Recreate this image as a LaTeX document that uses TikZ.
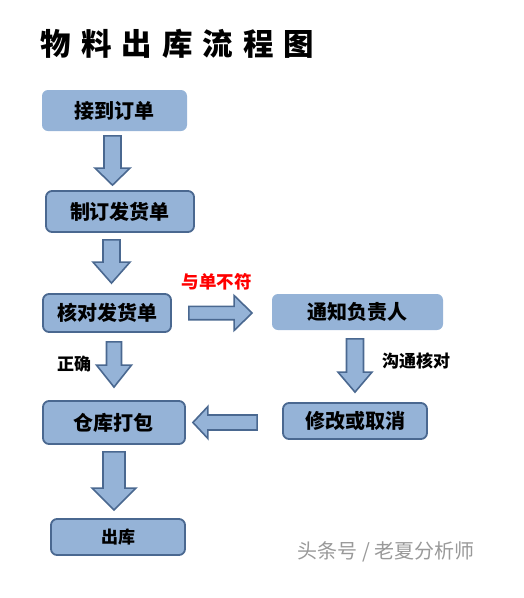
\documentclass[tikz,border=0pt]{standalone}
\usepackage{fontspec}
\newfontfamily\cjk{Noto Sans CJK SC}
\usetikzlibrary{calc, positioning}
\definecolor{boxfill}{HTML}{95B3D7}
\definecolor{boxline}{HTML}{4A6890}
\definecolor{warnred}{HTML}{FF0000}
% block arrow: start, tip, shaft half width, head half width, head length
\newcommand{\blockarr}[5]{%
  \coordinate (bah) at ($(#2)!#5pt!(#1)$);
  \draw[arrowbody] ($(#1)!#3pt!90:(#2)$) -- ($(bah)!#3pt!90:(#2)$) -- ($(bah)!#4pt!90:(#2)$) -- (#2)
    -- ($(bah)!#4pt!-90:(#2)$) -- ($(bah)!#3pt!-90:(#2)$) -- ($(#1)!#3pt!-90:(#2)$) -- cycle;}

\begin{document}
\begin{tikzpicture}[x=1pt, y=-1pt,
    box/.style={rounded corners=6pt, fill=boxfill, draw=boxline, line width=1.8pt,
        inner sep=0pt, font=\cjk\bfseries\fontsize{20}{20}\selectfont},
    flatbox/.style={box, draw=none},
    arrowbody/.style={fill=boxfill, draw=boxline, line width=1.6pt, line join=miter},
    note/.style={font=\cjk\bfseries\fontsize{17}{17}\selectfont}]
    \useasboundingbox (0,0) rectangle (524,598);
    % Title
    \node[anchor=west, font=\cjk\bfseries\fontsize{30.5}{30.5}\selectfont\addfontfeatures{LetterSpace=33}] (title) at (37,44) {物料出库流程图};
    % Steps
    \node[flatbox, minimum width=145pt, minimum height=41pt] (order) at (114.5,110.5) {接到订单};
    \node[box, minimum width=148pt, minimum height=41pt] (invoice) at (120,211.5) {制订发货单};
    \node[box, minimum width=128pt, minimum height=38pt] (check) at (107,313) {核对发货单};
    \node[flatbox, minimum width=171pt, minimum height=36pt] (notify) at (357.5,312) {通知负责人};
    \node[box, minimum width=142pt, minimum height=43pt] (pack) at (114,422.5) {仓库打包};
    \node[box, minimum width=144pt, minimum height=36pt] (revise) at (355,421) {修改或取消};
    \node[box, minimum width=134pt, minimum height=36pt, font=\cjk\bfseries\fontsize{17}{17}\selectfont] (ship) at (118,537) {出库};
    % Connectors
    \coordinate (a1s) at ($(order.south)+(-2,4)$);
    \coordinate (a1t) at ($(a1s |- invoice.north)+(0,-5)$);
    \blockarr{a1s}{a1t}{8.5}{17.5}{17}
    \coordinate (a2s) at ($(invoice.south)+(-8.5,7)$);
    \coordinate (a2t) at ($(a2s |- check.north)+(0,-10)$);
    \blockarr{a2s}{a2t}{8.5}{18.5}{21}
    \coordinate (a3s) at ($(check.south)+(7,9)$);
    \coordinate (a3t) at ($(a3s |- pack.north)+(0,-13)$);
    \blockarr{a3s}{a3t}{7.5}{17.5}{22}
    \coordinate (a4s) at ($(pack.south)+(0,7)$);
    \coordinate (a4t) at ($(a4s |- ship.north)+(0,-8)$);
    \blockarr{a4s}{a4t}{11}{22}{22}
    \coordinate (a5s) at ($(notify.south)+(-2.5,8)$);
    \coordinate (a5t) at ($(a5s |- revise.north)+(0,-10)$);
    \blockarr{a5s}{a5t}{8.5}{17}{20}
    \coordinate (a6s) at ($(check.east)+(17,0)$);
    \coordinate (a6t) at ($(a6s -| notify.west)+(-19,0)$);
    \blockarr{a6s}{a6t}{6.7}{17.5}{18}
    \coordinate (a7s) at ($(revise.west)+(-25,1.5)$);
    \coordinate (a7t) at ($(a7s -| pack.east)+(7,0)$);
    \blockarr{a7s}{a7t}{7.5}{16}{15}
    % Labels
    \node[note, text=warnred, font=\cjk\bfseries\fontsize{17.5}{17.5}\selectfont] (mismatch) at (216.5,282) {与单不符};
    \node[note] (correct) at (74,364) {正确};
    \node[note] (confirm) at (416,361) {沟通核对};
    \node[font=\cjk\fontsize{20}{20}\selectfont, text=black!40] (mark) at (386,552) {头条号 / 老夏分析师};
\end{tikzpicture}
\end{document}
